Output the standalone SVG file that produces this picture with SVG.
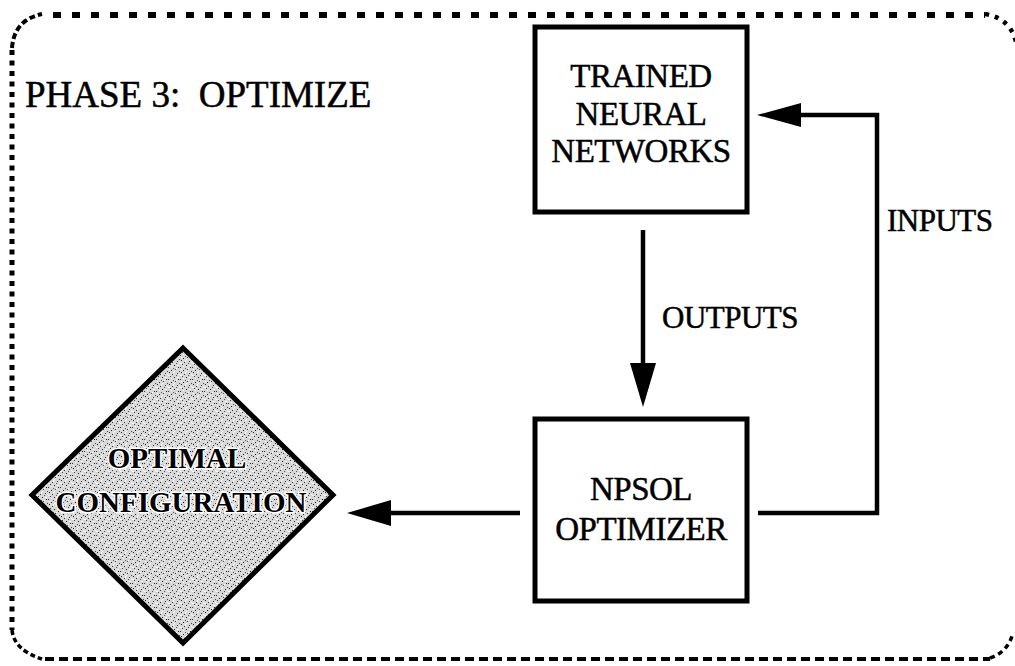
<svg xmlns="http://www.w3.org/2000/svg" width="1015" height="666" viewBox="0 0 1015 666">
<style>
.t{font-family:"Liberation Serif","Times New Roman",serif;fill:#000;stroke:#000;stroke-width:0.5}
.box{fill:#fff;stroke:#000;stroke-width:5}
.ln{fill:none;stroke:#000;stroke-width:4.5}
.ah{fill:#000}
</style>
<defs>
<pattern id="stip" width="12" height="12" patternUnits="userSpaceOnUse">
<rect width="12" height="12" fill="#d8d8d8"/>
<rect x="1" y="0" width="1" height="1" fill="#222"/>
<rect x="4" y="2" width="1" height="1" fill="#333"/>
<rect x="2" y="4" width="1" height="1" fill="#444"/>
<rect x="6" y="5" width="1" height="1" fill="#222"/>
<rect x="9" y="1" width="1" height="1" fill="#333"/>
<rect x="10" y="7" width="1" height="1" fill="#222"/>
<rect x="7" y="9" width="1" height="1" fill="#444"/>
<rect x="3" y="10" width="1" height="1" fill="#222"/>
<rect x="0" y="7" width="1" height="1" fill="#333"/>
<rect x="11" y="11" width="1" height="1" fill="#444"/>
<rect x="8" y="3" width="1" height="1" fill="#555"/>
<rect x="5" y="8" width="1" height="1" fill="#555"/>
<rect x="0" y="3" width="2" height="1" fill="#fff"/>
<rect x="5" y="0" width="1" height="2" fill="#fff"/>
<rect x="3" y="6" width="1" height="1" fill="#fff"/>
<rect x="9" y="5" width="2" height="1" fill="#fff"/>
<rect x="6" y="11" width="1" height="1" fill="#fff"/>
<rect x="11" y="2" width="1" height="1" fill="#fff"/>
<rect x="1" y="9" width="1" height="1" fill="#fff"/>
<rect x="8" y="8" width="1" height="1" fill="#fff"/>
</pattern>
</defs>
<rect width="1015" height="666" fill="#fff"/>
<g id="frame" fill="none" stroke="#000">
<path d="M53 15 H985" stroke-width="6" stroke-dasharray="8 11"/>
<path d="M12 50 V630" stroke-width="5" stroke-dasharray="5 5.5"/>
<path d="M45 659 H990" stroke-width="4" stroke-dasharray="9 5"/>
<path d="M12 48 Q14 20 42 14" stroke-width="4" stroke-dasharray="6 3"/>
<path d="M985 14 Q1010 18 1016 42" stroke-width="4.5" stroke-dasharray="4 6"/>
<path d="M990 658 Q1008 652 1013 633" stroke-width="3.5" stroke-dasharray="5 4"/>
<path d="M12 630 Q14 650 42 659" stroke-width="3.5" stroke-dasharray="5 3"/>
</g>
<text id="title" class="t" x="25" y="107" font-size="37" style="white-space:pre">PHASE 3:  OPTIMIZE</text>
<g id="trained">
<rect class="box" x="535" y="27" width="212" height="185"/>
<text class="t" font-size="33" text-anchor="middle" letter-spacing="-0.5"><tspan x="641" y="87">TRAINED</tspan><tspan x="641" y="125">NEURAL</tspan><tspan x="641" y="162">NETWORKS</tspan></text>
</g>
<g id="npsol">
<rect class="box" x="535" y="419" width="212" height="182"/>
<text class="t" font-size="33" text-anchor="middle" letter-spacing="-0.5"><tspan x="641" y="500">NPSOL</tspan><tspan x="641" y="540">OPTIMIZER</tspan></text>
</g>
<g id="optimal">
<polygon points="183,348 333,495 183,643 32,495" fill="url(#stip)" stroke="#000" stroke-width="5"/>
<text font-family="Liberation Serif, Times New Roman, serif" font-size="29" font-weight="bold" text-anchor="middle" fill="#000" stroke="#fff" stroke-width="3" paint-order="stroke"><tspan x="177" y="468">OPTIMAL</tspan><tspan x="181" y="512">CONFIGURATION</tspan></text>
</g>
<g id="connectors">
<line class="ln" x1="643" y1="230" x2="643" y2="366"/>
<polygon class="ah" points="630,363 656,363 643,407"/>
<polyline class="ln" points="758,513 877,513 877,115 798,115"/>
<polygon class="ah" points="757,115 801,103 801,127"/>
<line class="ln" x1="520" y1="513" x2="388" y2="513"/>
<polygon class="ah" points="347,513 391,500 391,526"/>
</g>
<text id="lbl-outputs" class="t" x="662" y="328" font-size="31" letter-spacing="-0.5">OUTPUTS</text>
<text id="lbl-inputs" class="t" x="887" y="231" font-size="31" letter-spacing="-0.5">INPUTS</text>
</svg>
